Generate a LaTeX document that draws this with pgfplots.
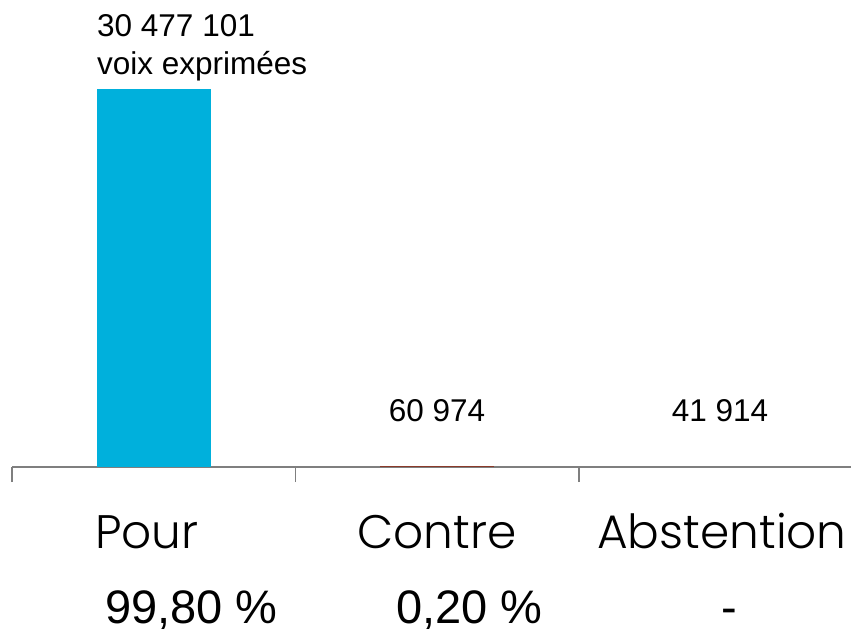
\documentclass[border=0pt]{standalone}
\usepackage{pgfplots}
\pgfplotsset{compat=1.18}
\usepackage{fontspec}
\setmainfont{Liberation Sans}
\newfontfamily\catfont{Poppins Light}
\definecolor{barblue}{HTML}{00B0DC}
\definecolor{axisgray}{HTML}{7F7F7F}
\definecolor{contrered}{HTML}{8B3A2A}
\begin{document}
\begin{tikzpicture}[x=1pt,y=1pt]
\useasboundingbox (0,0) rectangle (851,632);
\begin{axis}[
  at={(12pt,165pt)}, anchor=south west,
  scale only axis, width=839pt, height=378pt,
  xmin=-0.5, xmax=2.4594, ymin=0, ymax=30477101,
  clip=false,
  axis x line*=bottom, axis y line=none,
  x axis line style={draw=axisgray, line width=1.8pt, -},
  xtick={-0.5,0.5,1.5}, xticklabels={}, 
  tick align=outside, major tick length=15pt,
  tick style={draw=axisgray, line width=1.5pt},
  ytick=\empty,
]
\addplot[ybar, bar width=114pt, bar shift=0pt, fill=barblue, draw=none] coordinates {(0,30477101)};
\addplot[ybar, bar width=114pt, bar shift=0pt, fill=contrered, draw=none] coordinates {(1,60974)};
\addplot[ybar, bar width=114pt, bar shift=0pt, fill=axisgray, draw=none] coordinates {(2,41914)};
\end{axis}
% value labels
\node[anchor=base west, inner sep=0pt, font=\fontsize{31.5}{31.5}\selectfont] at (97,595) {30 477 101};
\node[anchor=base west, inner sep=0pt, font=\fontsize{31.5}{31.5}\selectfont] at (97,557) {voix exprimées};
\node[anchor=base, inner sep=0pt, font=\fontsize{31.5}{31.5}\selectfont] at (437,210) {60 974};
\node[anchor=base, inner sep=0pt, font=\fontsize{31.5}{31.5}\selectfont] at (720,210) {41 914};
% category labels
\node[anchor=base, inner sep=0pt, font=\catfont\fontsize{47}{47}\selectfont] at (147,84) {Pour};
\node[anchor=base, inner sep=0pt, font=\catfont\fontsize{47}{47}\selectfont] at (437,84) {Contre};
\node[anchor=base, inner sep=0pt, font=\catfont\fontsize{47}{47}\selectfont] at (722,84) {Abstention};
% percentages
\node[anchor=base, inner sep=0pt, font=\fontsize{47}{47}\selectfont] at (191.5,9) {99,80 \%};
\node[anchor=base, inner sep=0pt, font=\fontsize{47}{47}\selectfont] at (469.5,9) {0,20 \%};
\node[anchor=base, inner sep=0pt, font=\fontsize{47}{47}\selectfont] at (729,9) {-};
\end{tikzpicture}
\end{document}
